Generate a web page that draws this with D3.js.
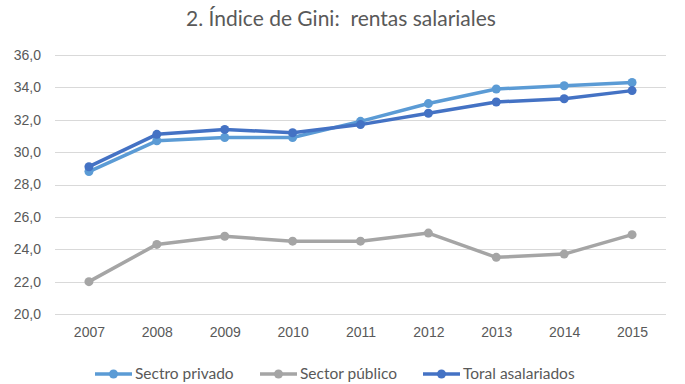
<!DOCTYPE html>
<html>
<head>
<meta charset="utf-8">
<script src="https://cdn.jsdelivr.net/npm/d3@7"></script>
<style>
	body { margin: 0; background: #fff; }
	svg { font-family: Lato, "Open Sans", sans-serif; }
	.axis text { fill: #595959; font-size: 14px; }
	.axis path, .axis line { stroke: none; }
	.grid line { stroke: #d9d9d9; stroke-width: 1; }
</style>
</head>
<body>
<svg id="chart" width="685" height="384"></svg>
<script>
var years = ["2007", "2008", "2009", "2010", "2011", "2012", "2013", "2014", "2015"];
var yTicks = [20, 22, 24, 26, 28, 30, 32, 34, 36];
var privado = [28.8, 30.7, 30.9, 30.9, 31.9, 33.0, 33.9, 34.1, 34.3];
var publico = [22.0, 24.3, 24.8, 24.5, 24.5, 25.0, 23.5, 23.7, 24.9];
var toral = [29.1, 31.1, 31.4, 31.2, 31.7, 32.4, 33.1, 33.3, 33.8];
var seriesNames = ["Sectro privado", "Sector público", "Toral asalariados"];
var seriesColors = ["#5b9bd5", "#a5a5a5", "#4472c4"];

var series = [privado, publico, toral].map(function(v, i) {
	return { name: seriesNames[i], color: seriesColors[i], values: v };
});

var svg = d3.select("#chart"),
	margin = {top: 55, right: 19, bottom: 70, left: 55},
	width = +svg.attr("width") - margin.left - margin.right,
	height = +svg.attr("height") - margin.top - margin.bottom;

var x = d3.scalePoint().domain(years).range([0, width]).padding(0.5);
var y = d3.scaleLinear().domain([20, 36]).range([height, 0]);

var fmt = function(d) { return d3.format(".1f")(d).replace(".", ","); };

svg.append("text")
	.attr("x", 341)
	.attr("y", 26)
	.attr("text-anchor", "middle")
	.attr("fill", "#595959")
	.style("font-size", "21px")
	.style("white-space", "pre")
	.text("2. Índice de Gini:  rentas salariales");

var g = svg.append("g").attr("transform", "translate(" + margin.left + "," + margin.top + ")");

g.append("g")
	.attr("class", "grid")
	.selectAll("line")
	.data(yTicks)
	.enter().append("line")
	.attr("x1", 0)
	.attr("x2", width)
	.attr("y1", function(d) { return Math.round(y(d)) + 0.5; })
	.attr("y2", function(d) { return Math.round(y(d)) + 0.5; });

g.append("g")
	.attr("class", "axis y")
	.call(d3.axisLeft(y).tickValues(yTicks).tickFormat(fmt).tickSize(0).tickPadding(14));

g.append("g")
	.attr("class", "axis x")
	.attr("transform", "translate(0," + height + ")")
	.call(d3.axisBottom(x).tickSize(0).tickPadding(13));

var line = d3.line()
	.x(function(d, i) { return x(years[i]); })
	.y(function(d) { return y(d); });

var vars = g.selectAll(".serie")
	.data(series)
	.enter().append("g")
	.attr("class", "serie");

vars.append("path")
	.attr("d", function(d) { return line(d.values); })
	.attr("fill", "none")
	.attr("stroke", function(d) { return d.color; })
	.attr("stroke-width", 3.5)
	.attr("stroke-linejoin", "round");

vars.selectAll("circle")
	.data(function(d) { return d.values.map(function(v, i) { return {v: v, i: i, color: d.color}; }); })
	.enter().append("circle")
	.attr("cx", function(d) { return x(years[d.i]); })
	.attr("cy", function(d) { return y(d.v); })
	.attr("r", 4.5)
	.attr("fill", function(d) { return d.color; });

// legend
var legendX = [95, 260, 423];
var legend = svg.selectAll(".legend")
	.data(series)
	.enter().append("g")
	.attr("class", "legend")
	.attr("transform", function(d, i) { return "translate(" + legendX[i] + ",374)"; });

legend.append("line")
	.attr("x1", 0).attr("x2", 37)
	.attr("stroke", function(d) { return d.color; })
	.attr("stroke-width", 3.5);
legend.append("circle")
	.attr("cx", 18.5)
	.attr("r", 4.5)
	.attr("fill", function(d) { return d.color; });
legend.append("text")
	.attr("x", 40)
	.attr("dy", "0.35em")
	.attr("fill", "#595959")
	.style("font-size", "15.5px")
	.text(function(d) { return d.name; });
</script>
</body>
</html>
